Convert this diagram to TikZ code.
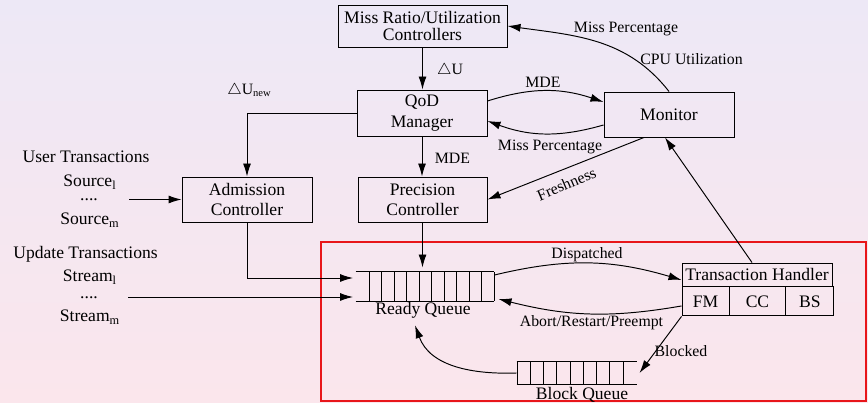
\documentclass[tikz,border=0pt]{standalone}
\usepackage{fontspec}
\setmainfont{Liberation Serif}
\usepackage{tikz}
\usetikzlibrary{arrows.meta}
\definecolor{bgtop}{RGB}{237,232,246}
\definecolor{bgbot}{RGB}{251,230,236}
\definecolor{framered}{RGB}{232,22,26}

\begin{document}
\begin{tikzpicture}[
	>={Latex[length=2.6mm,width=1.6mm]},
	line width=0.55pt,
	box/.style={draw, minimum height=0.9cm, align=center, inner sep=1pt, font=\fontsize{10}{11.5}\selectfont},
	txt/.style={anchor=base, inner sep=0pt, font=\fontsize{10}{12}\selectfont},
	lbl/.style={anchor=base, inner sep=1pt, font=\fontsize{9}{10}\selectfont},
	queue/.style={minimum height=0.58cm, inner sep=0pt}
]
	% \draw[help lines] (0,0) grid (17,8);
	\useasboundingbox (0,0) rectangle (17.36,8.06);
	\shade[top color=bgtop, bottom color=bgbot] (0,0) rectangle (17.36,8.06);

	% boxes
	\node[box, minimum width=3.38cm, minimum height=0.84cm] (ctrl) at (8.45,7.54) {Miss Ratio/Utilization\\[-1.5pt]Controllers};
	\node[box, minimum width=2.6cm, minimum height=0.92cm] (qod) at (8.44,5.80) {QoD\\Manager};
	\node[box, minimum width=2.58cm] (prec) at (8.45,4.07) {Precision\\Controller};
	\node[box, minimum width=2.6cm] (adm) at (4.94,4.07) {Admission\\Controller};
	\node[box, minimum width=2.6cm] (mon) at (13.38,5.77) {Monitor};

	% transaction handler
	\node[box, minimum width=3.0cm, minimum height=0.46cm] (th) at (15.14,2.57) {Transaction Handler};
	\node[box, minimum width=0.94cm, minimum height=0.58cm, anchor=north west] (fm) at (th.south west) {FM};
	\node[box, minimum width=1.10cm, minimum height=0.58cm, anchor=north west] (cc) at (fm.north east) {CC};
	\node[box, minimum width=0.96cm, minimum height=0.58cm, anchor=north west] (bs) at (cc.north east) {BS};

	% frame
	\draw[framered, line width=0.8pt] (6.42,0.04) rectangle (17.32,3.22);

	% ready queue
	\node[queue, minimum width=2.76cm] (rq) at (8.5,2.33) {};
	\draw (rq.north west) -- (rq.north east) (rq.south west) -- (rq.south east);
	\foreach \i in {0,...,10}
		\draw ({7.38+0.25*\i},2.04) -- ({7.38+0.25*\i},2.62);
	\node[txt] (rqlbl) at (8.46,1.76) {Ready Queue};

	% block queue
	\node[queue, minimum width=2.4cm, minimum height=0.44cm] (bq) at (11.54,0.60) {};
	\draw (bq.north west) -- (bq.north east) (bq.south west) -- (bq.south east);
	\foreach \i in {0,...,8}
		\draw ({10.34+0.265*\i},0.38) -- ({10.34+0.265*\i},0.82);
	\node[txt] (bqlbl) at (11.64,0.07) {Block Queue};

	% sources
	\node[txt] (ut) at (1.72,4.80) {User Transactions};
	\node[txt] (src1) at (1.80,4.32) {Source\textsubscript{l}};
	\node[txt] (srcdots) at (1.78,4.04) {....};
	\node[txt] (srcm) at (1.80,3.56) {Source\textsubscript{m}};
	\node[txt] (upt) at (1.71,2.88) {Update Transactions};
	\node[txt] (str1) at (1.80,2.42) {Stream\textsubscript{l}};
	\node[txt] (strdots) at (1.78,2.08) {....};
	\node[txt] (strm) at (1.80,1.62) {Stream\textsubscript{m}};

	\coordinate (src) at (2.58,4.07);
	\coordinate (str) at (2.56,2.12);
	\coordinate (rqin1) at (7.06,2.50);
	\coordinate (rqin2) at (7.06,2.12);

	% control loop
	\draw [->] (src) -- (adm.west);
	\draw [->] (str) -- (rqin2);
	\draw [->] (adm.south) |- (rqin1);
	\draw [->] (prec.south) -- ([yshift=0.08cm]prec.south |- rq.north);
	\draw [->] (ctrl.south) -- (ctrl.south |- qod.north);
	\draw [->] (qod.south) -- (qod.south |- prec.north);
	\draw [->] (qod.west) -| (adm.north);
	\draw [->] ([yshift=0.24cm]qod.east) to[bend left=18] ([yshift=0.25cm]mon.west);
	\draw [->] ([yshift=-0.21cm]mon.west) to[bend left=18] ([yshift=-0.16cm]qod.east);
	\draw [->] ([xshift=-0.5cm]mon.south) -- (prec.east);
	\draw [->] (mon.north) to[out=128,in=-8] (ctrl.east);
	\draw [->] ([xshift=-0.1cm]th.north) -- ([xshift=-0.08cm]mon.south);

	% queues
	\draw [->] ([yshift=0.23cm]rq.east) to[bend left=15] ([yshift=-0.11cm]th.west);
	\draw [->] ([yshift=-0.09cm]fm.west) to[bend left=12] ([xshift=0.08cm,yshift=-0.25cm]rq.east);
	\draw [->] (fm.south west) -- ([xshift=0.04cm]bq.east);
	\draw [->] (bq.west) to[out=182,in=-70] ([xshift=-0.16cm,yshift=-0.12cm]rqlbl.south);

	% label
	\node[lbl] (du) at (9.0,6.56) {$\triangle$U};
	\node[lbl] (dunew) at (4.99,6.16) {$\triangle$U\textsubscript{new}};
	\node[lbl] (mde1) at (10.86,6.30) {MDE};
	\node[lbl] (mde2) at (9.05,4.78) {MDE};
	\node[lbl] (miss1) at (11.0,5.05) {Miss Percentage};
	\node[lbl] (miss2) at (12.52,7.40) {Miss Percentage};
	\node[lbl] (cpu) at (13.83,6.76) {CPU Utilization};
	\node[lbl, anchor=center, rotate=23] (fresh) at (11.33,4.38) {Freshness};
	\node[lbl] (disp) at (11.74,2.88) {Dispatched};
	\node[lbl] (abort) at (11.83,1.52) {Abort/Restart/Preempt};
	\node[lbl] (blk) at (13.62,0.92) {Blocked};
\end{tikzpicture}
\end{document}
